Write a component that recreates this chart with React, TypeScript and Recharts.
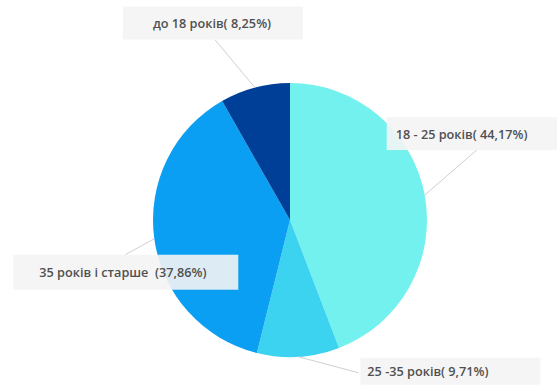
import { PieChart, Pie, Cell } from "recharts";

const categories = ["18 - 25 років", "25 -35 років", "35 років і старше", "до 18 років"];
const shares = [44.17, 9.71, 37.86, 8.25];
const shareLabels = ["( 44,17%)", "( 9,71%)", "\u00a0\u00a0(37,86%)", "( 8,25%)"];
const COLORS = ["#72f1ee", "#3cd3f1", "#0a9ff2", "#003f98"];

const data = categories.map((name, i) => ({ name, value: shares[i] }));

// label layout, relative to the slice's outer edge at midAngle
const LABEL_LAYOUT = [
  { line: [52, -45], box: [-38, -78, 175, 33], textX: -29 },
  { line: [60, 16], box: [62, 1, 180, 27], textX: 69 },
  { line: [-29, 16], box: [-141, 16, 225, 35], textX: -115 },
  { line: [-40, -48], box: [-132, -81, 180, 33], textX: -102 },
];

const RADIAN = Math.PI / 180;

function renderLabel(props: any) {
  const { cx, cy, midAngle, outerRadius, index } = props;
  const ex = cx + outerRadius * Math.cos(-midAngle * RADIAN);
  const ey = cy + outerRadius * Math.sin(-midAngle * RADIAN);
  const l = LABEL_LAYOUT[index];
  const [bx, by, bw, bh] = l.box;
  return (
    <g key={`label-${index}`}>
      <line
        x1={ex}
        y1={ey}
        x2={ex + l.line[0]}
        y2={ey + l.line[1]}
        stroke="#d0d0d0"
        strokeWidth={1}
      />
      <rect x={ex + bx} y={ey + by} width={bw} height={bh} fill="#f4f4f4" fillOpacity={0.9} />
      <text
        x={ex + l.textX}
        y={ey + by + bh / 2}
        dominantBaseline="central"
        textAnchor="start"
        fill="#505050"
        fontSize={12.7}
        fontWeight={600}
        fontFamily="'Open Sans', sans-serif"
      >
        {categories[index] + shareLabels[index]}
      </text>
    </g>
  );
}

export default function App() {
  return (
    <div style={{ width: 557, height: 387, background: "#fff" }}>
      <style>{"body{margin:0}"}</style>
      <PieChart width={557} height={387} margin={{ top: 0, right: 0, bottom: 0, left: 0 }}>
        <Pie
          data={data}
          dataKey="value"
          cx={290}
          cy={220}
          outerRadius={137}
          startAngle={90}
          endAngle={-270}
          stroke="none"
          label={renderLabel}
          labelLine={false}
          isAnimationActive={false}
        >
          {data.map((_, i) => (
            <Cell key={`cell-${i}`} fill={COLORS[i]} />
          ))}
        </Pie>
      </PieChart>
    </div>
  );
}
